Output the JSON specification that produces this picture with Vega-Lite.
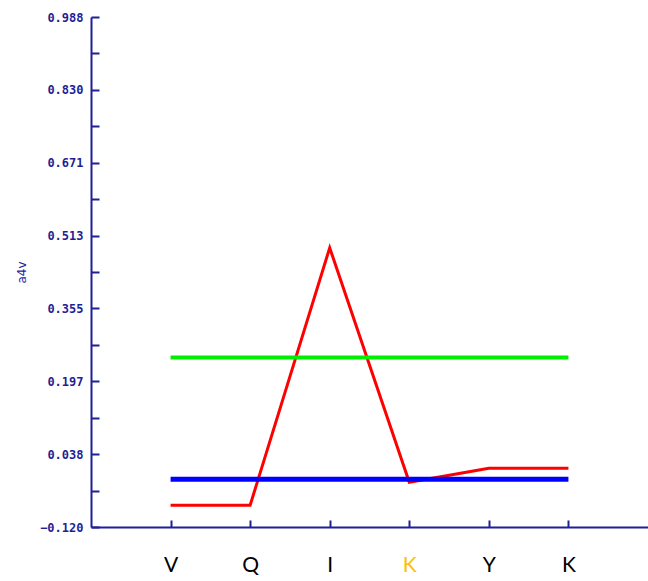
{
  "$schema": "https://vega.github.io/schema/vega-lite/v6.json",
  "width": 557,
  "height": 510,
  "autosize": "none",
  "padding": {"left": 91, "top": 17, "right": 0, "bottom": 54},
  "background": "white",
  "config": {"view": {"stroke": null}},
  "data": {
    "values": [
      {"pos": 1, "res": "V", "series": "score", "value": -0.0726},
      {"pos": 2, "res": "Q", "series": "score", "value": -0.0726},
      {"pos": 3, "res": "I", "series": "score", "value": 0.4866},
      {"pos": 4, "res": "K", "series": "score", "value": -0.0227},
      {"pos": 5, "res": "Y", "series": "score", "value": 0.0077},
      {"pos": 6, "res": "K", "series": "score", "value": 0.0077},
      {"pos": 1, "res": "V", "series": "upper", "value": 0.248},
      {"pos": 6, "res": "K", "series": "upper", "value": 0.248},
      {"pos": 1, "res": "V", "series": "lower", "value": -0.0162},
      {"pos": 6, "res": "K", "series": "lower", "value": -0.0162}
    ]
  },
  "mark": {"type": "line", "interpolate": "linear"},
  "encoding": {
    "x": {
      "field": "pos",
      "type": "quantitative",
      "scale": {"domain": [0, 7], "nice": false, "zero": false},
      "axis": {
        "title": null,
        "values": [1, 2, 3, 4, 5, 6],
        "labelExpr": "['','V','Q','I','K','Y','K'][datum.value]",
        "grid": false,
        "domainColor": "#1f1f96",
        "domainWidth": 2,
        "tickColor": "#1f1f96",
        "tickWidth": 2,
        "tickSize": -7,
        "labelFont": "Lato",
        "labelFontSize": 21,
        "labelColor": {"condition": {"test": "datum.value == 4", "value": "#FFC000"}, "value": "#000000"},
        "labelBaseline": "alphabetic",
        "labelPadding": 51
      }
    },
    "y": {
      "field": "value",
      "type": "quantitative",
      "scale": {"domain": [-0.12, 0.988], "nice": false, "zero": false},
      "axis": {
        "title": "a4v",
        "titleFont": "DejaVu Sans",
        "titleFontSize": 12,
        "titleFontWeight": "normal",
        "titleColor": "#1f1f96",
        "titlePadding": 11,
        "values": [-0.12, -0.0408571, 0.0382857, 0.1174286, 0.1965714, 0.2757143, 0.3548571, 0.434, 0.5131429, 0.5922857, 0.6714286, 0.7505714, 0.8297143, 0.9088571, 0.988],
        "labelExpr": "round((datum.value + 0.12) / 0.0791428571) % 2 == 0 ? format(datum.value, '.3f') : ''",
        "grid": false,
        "domainColor": "#1f1f96",
        "domainWidth": 2,
        "tickColor": "#1f1f96",
        "tickWidth": 2,
        "tickSize": -8,
        "labelFont": "DejaVu Sans Mono",
        "labelFontWeight": "bold",
        "labelFontSize": 12,
        "labelColor": "#1f1f96",
        "labelPadding": 16
      }
    },
    "color": {
      "field": "series",
      "type": "nominal",
      "scale": {"domain": ["score", "upper", "lower"], "range": ["#ff0000", "#00ee00", "#0000ff"]},
      "legend": null
    },
    "strokeWidth": {
      "field": "series",
      "type": "nominal",
      "scale": {"domain": ["score", "upper", "lower"], "range": [3, 5, 5]},
      "legend": null
    }
  }
}
